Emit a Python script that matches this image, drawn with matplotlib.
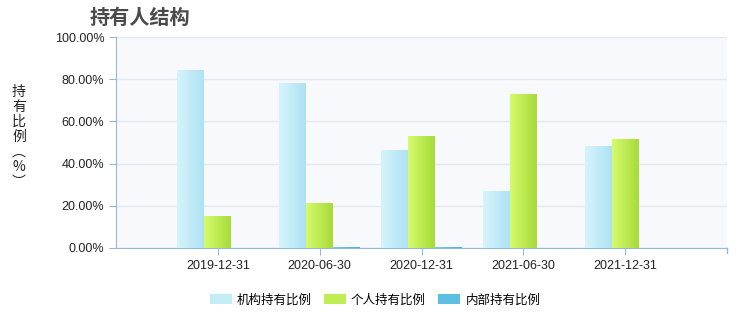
import numpy as np
import matplotlib
matplotlib.use("Agg")
import matplotlib.pyplot as plt
from matplotlib.colors import LinearSegmentedColormap
from matplotlib.patches import Patch

plt.rcParams['font.family'] = ['Noto Sans CJK SC', 'DejaVu Sans']

categories = ["2019-12-31", "2020-06-30", "2020-12-31", "2021-06-30", "2021-12-31"]
inst = [84.4, 78.2, 46.4, 27.0, 48.3]
indiv = [15.2, 21.3, 53.1, 73.0, 51.7]
insider = [0.0, 0.5, 0.5, 0.0, 0.0]
series_names = ["机构持有比例", "个人持有比例", "内部持有比例"]
yticks = [0, 20, 40, 60, 80, 100]

grads = [("#d6f4fc", "#ade2f3"), ("#d6fa6c", "#a7db3a"), ("#74cdea", "#48aed6")]

fig = plt.figure(figsize=(7.45, 3.16), dpi=100)
ax = fig.add_axes([116/745, 1-248/316, (727-116)/745, (248-37)/316])
ax.set_facecolor("#f7f9fc")

x = np.arange(len(categories))
w = 0.265
grad_img = np.linspace(0, 1, 64).reshape(1, -1)
for i, (vals, (c0, c1)) in enumerate(zip([inst, indiv, insider], grads)):
    cmap = LinearSegmentedColormap.from_list(f"g{i}", [c0, c1])
    bars = ax.bar(x + (i - 1) * w, vals, width=w, color=c1, zorder=2)
    for b in bars:
        if b.get_height() <= 0:
            continue
        bx, by = b.get_x(), b.get_y()
        im = ax.imshow(grad_img, cmap=cmap, aspect='auto', zorder=3,
                       extent=[bx, bx + b.get_width(), by, by + b.get_height()])
        im.set_clip_path(b)

ax.set_xlim(-1, 5)
ax.set_ylim(0, 100)
ax.set_yticks(yticks)
ax.set_yticklabels([f"{v:.2f}%" for v in yticks], fontsize=9, family=['Liberation Sans'])
ax.set_xticks(x)
ax.set_xticklabels(categories, fontsize=9, family=['Liberation Sans'])
ax.grid(axis='y', color="#e4e9f1", linewidth=1, zorder=0)
ax.set_axisbelow(True)
for s in ["top", "right"]:
    ax.spines[s].set_visible(False)
for s in ["left", "bottom"]:
    ax.spines[s].set_color("#96b8d2")
ax.tick_params(axis='both', color="#96b8d2", length=5, labelcolor="#222222")

# extra tick at right end of x axis
ax.plot([5, 5], [0, -2.2], color="#96b8d2", lw=1, clip_on=False)

fig.text(90/745, 1-17/316, "持有人结构", fontsize=14.5, fontweight='bold', color="#4a4a4a",
         va='center', ha='left')
fig.text(19/745, 1-137/316, "持\n有\n比\n例\n︵\n%\n︶", fontsize=10, color="#222222",
         va='center', ha='center', linespacing=1.1)

handles = [Patch(facecolor=c, edgecolor='none') for c in ["#c2ecf8", "#c0ec54", "#5dbee0"]]
fig.legend(handles, series_names, loc='center', bbox_to_anchor=(375/745, 1-300/316), ncol=3,
           frameon=False, fontsize=9, handlelength=1.75, handleheight=0.9, columnspacing=1.0,
           handletextpad=0.4)

fig.savefig("out.png", dpi=100)
